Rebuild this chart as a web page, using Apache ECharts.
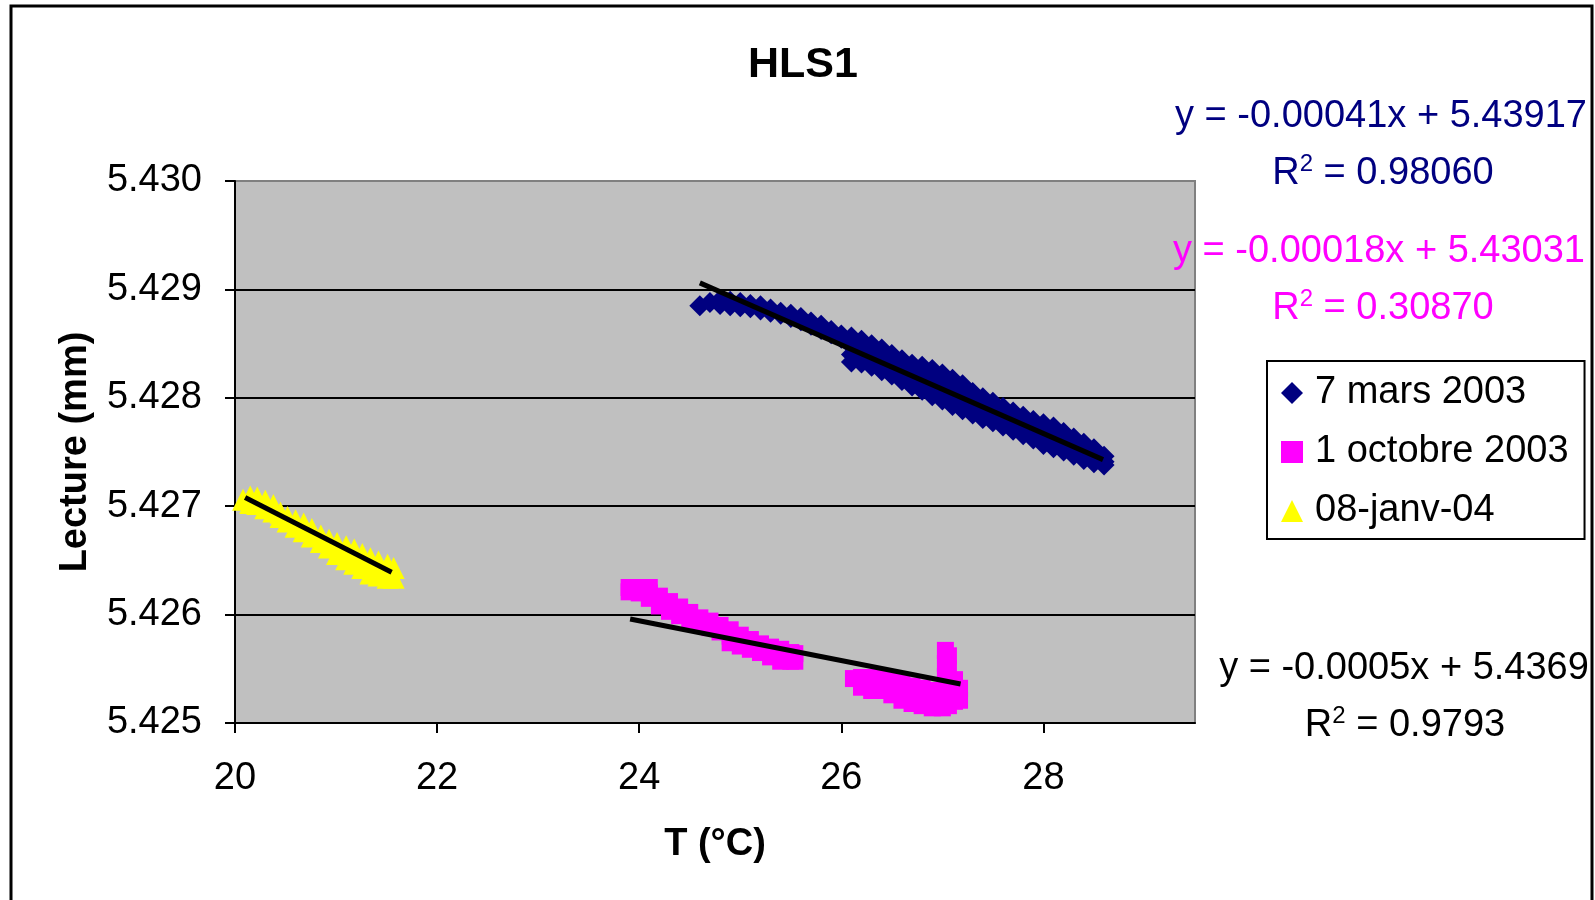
<!DOCTYPE html>
<html>
<head>
<meta charset="utf-8">
<title>HLS1</title>
<script src="https://cdn.jsdelivr.net/npm/echarts@6/dist/echarts.min.js"></script>
<style>
    html, body { margin: 0; padding: 0; background: #fff; }
    #chart { width: 1595px; height: 900px; }
</style>
</head>
<body>
<div id="chart"></div>
<script>
var FONT = "'Liberation Sans', Arial, sans-serif";

var seriesNames = ['7 mars 2003', '1 octobre 2003', '08-janv-04'];
var xTicks = [20, 22, 24, 26, 28];

// T (°C), Lecture (mm)
var mars2003 = [
    [24.6, 5.42885], [24.7, 5.42888],
    [24.8, 5.42890], [24.8, 5.42886], [24.9, 5.42889], [24.9, 5.42885],
    [25.0, 5.42888], [25.0, 5.42884], [25.1, 5.42886], [25.1, 5.42883],
    [25.2, 5.42885], [25.2, 5.42881], [25.3, 5.42882], [25.3, 5.42879],
    [25.4, 5.42879], [25.4, 5.42877], [25.5, 5.42877], [25.5, 5.42874],
    [25.6, 5.42874], [25.6, 5.42871], [25.7, 5.42870], [25.7, 5.42867],
    [25.8, 5.42867], [25.8, 5.42863], [25.9, 5.42862], [25.9, 5.42859],
    [26.0, 5.42858], [26.0, 5.42855],
    [26.1, 5.42856], [26.1, 5.42848], [26.1, 5.42840], [26.1, 5.42833],
    [26.2, 5.42853], [26.2, 5.42845], [26.2, 5.42837], [26.2, 5.42832],
    [26.3, 5.42849], [26.3, 5.42841], [26.3, 5.42833], [26.3, 5.42829],
    [26.4, 5.42845], [26.4, 5.42837], [26.4, 5.42829], [26.4, 5.42825],
    [26.5, 5.42840], [26.5, 5.42832], [26.5, 5.42824], [26.5, 5.42821],
    [26.6, 5.42835], [26.6, 5.42827], [26.6, 5.42819], [26.6, 5.42816],
    [26.7, 5.42831], [26.7, 5.42823], [26.7, 5.42815], [26.7, 5.42811],
    [26.8, 5.42829], [26.8, 5.42821], [26.8, 5.42813], [26.8, 5.42807],
    [26.9, 5.42826], [26.9, 5.42818], [26.9, 5.42810], [26.9, 5.42802],
    [27.0, 5.42822], [27.0, 5.42814], [27.0, 5.42806], [27.0, 5.42798],
    [27.1, 5.42817], [27.1, 5.42809], [27.1, 5.42801], [27.1, 5.42793],
    [27.2, 5.42812], [27.2, 5.42804], [27.2, 5.42796], [27.2, 5.42789],
    [27.3, 5.42805], [27.3, 5.42797], [27.3, 5.42790], [27.3, 5.42785],
    [27.4, 5.42800], [27.4, 5.42792], [27.4, 5.42786], [27.4, 5.42781],
    [27.5, 5.42796], [27.5, 5.42789], [27.5, 5.42782], [27.5, 5.42778],
    [27.6, 5.42791], [27.6, 5.42784], [27.6, 5.42778], [27.6, 5.42774],
    [27.7, 5.42787], [27.7, 5.42780], [27.7, 5.42774], [27.7, 5.42770],
    [27.8, 5.42783], [27.8, 5.42776], [27.8, 5.42770], [27.8, 5.42766],
    [27.9, 5.42779], [27.9, 5.42772], [27.9, 5.42766], [27.9, 5.42762],
    [28.0, 5.42776], [28.0, 5.42769], [28.0, 5.42762], [28.0, 5.42757],
    [28.1, 5.42773], [28.1, 5.42766], [28.1, 5.42759], [28.1, 5.42754],
    [28.2, 5.42768], [28.2, 5.42761], [28.2, 5.42755], [28.2, 5.42751],
    [28.3, 5.42763], [28.3, 5.42756], [28.3, 5.42751], [28.3, 5.42747],
    [28.4, 5.42758], [28.4, 5.42752], [28.4, 5.42747], [28.4, 5.42743],
    [28.5, 5.42753], [28.5, 5.42748], [28.5, 5.42744], [28.5, 5.42740],
    [28.6, 5.42746], [28.6, 5.42741], [28.6, 5.42738]
];

var octobre2003 = [
    [23.9, 5.42625], [23.9, 5.42621], [24.0, 5.42625], [24.0, 5.42620],
    [24.1, 5.42625], [24.1, 5.42620], [24.1, 5.42615],
    [24.2, 5.42617], [24.2, 5.42608], [24.3, 5.42612], [24.3, 5.42603],
    [24.4, 5.42607], [24.4, 5.42599], [24.5, 5.42602], [24.5, 5.42595],
    [24.6, 5.42597], [24.6, 5.42591], [24.7, 5.42594], [24.7, 5.42588],
    [24.8, 5.42590], [24.8, 5.42584],
    [24.9, 5.42586], [24.9, 5.42580], [24.9, 5.42574],
    [25.0, 5.42581], [25.0, 5.42575], [25.0, 5.42571],
    [25.1, 5.42577], [25.1, 5.42568], [25.2, 5.42573], [25.2, 5.42565],
    [25.3, 5.42570], [25.3, 5.42561], [25.4, 5.42568], [25.4, 5.42557],
    [25.5, 5.42565], [25.5, 5.42557], [25.54, 5.42564], [25.54, 5.42557],
    [26.12, 5.42541],
    [26.2, 5.42542], [26.2, 5.42533], [26.3, 5.42542], [26.3, 5.42530],
    [26.4, 5.42542], [26.4, 5.42530], [26.5, 5.42539], [26.5, 5.42526],
    [26.6, 5.42537], [26.6, 5.42529], [26.6, 5.42521],
    [26.7, 5.42534], [26.7, 5.42526], [26.7, 5.42518],
    [26.8, 5.42532], [26.8, 5.42524], [26.8, 5.42516],
    [26.9, 5.42530], [26.9, 5.42522], [26.9, 5.42514],
    [27.0, 5.42528], [27.0, 5.42521], [27.0, 5.42514],
    [27.03, 5.42567], [27.03, 5.42555], [27.03, 5.42543], [27.03, 5.42531], [27.03, 5.42521],
    [27.06, 5.42562], [27.06, 5.42550], [27.06, 5.42538], [27.06, 5.42526], [27.06, 5.42516],
    [27.12, 5.42540], [27.12, 5.42530], [27.12, 5.42520],
    [27.17, 5.42532], [27.17, 5.42521]
];

var janvier2004 = [
    [20.08, 5.42706],
    [20.15, 5.42709], [20.15, 5.42703], [20.22, 5.42708], [20.22, 5.42702],
    [20.30, 5.42705], [20.30, 5.42698], [20.38, 5.42701], [20.38, 5.42695],
    [20.45, 5.42694], [20.45, 5.42690], [20.52, 5.42690], [20.52, 5.42686],
    [20.60, 5.42687], [20.60, 5.42681], [20.68, 5.42684], [20.68, 5.42677],
    [20.76, 5.42679], [20.76, 5.42672], [20.85, 5.42673], [20.85, 5.42667],
    [20.93, 5.42669], [20.93, 5.42662], [21.01, 5.42666], [21.01, 5.42656],
    [21.10, 5.42663], [21.10, 5.42651], [21.18, 5.42660], [21.18, 5.42647],
    [21.26, 5.42656], [21.26, 5.42643], [21.34, 5.42652], [21.34, 5.42638],
    [21.42, 5.42649], [21.42, 5.42636], [21.51, 5.42646], [21.51, 5.42634],
    [21.57, 5.42643], [21.57, 5.42634]
];

// droites de tendance (extrémités)
var trendMars = [[24.60, 5.42906], [28.59, 5.42743]];
var trendOctobre = [[23.91, 5.42596], [27.18, 5.42536]];
var trendJanvier = [[20.10, 5.42708], [21.55, 5.42639]];

var eqMars = ['y = -0.00041x + 5.43917', '0.98060'];
var eqOctobre = ['y = -0.00018x + 5.43031', '0.30870'];
var eqJanvier = ['y = -0.0005x + 5.4369', '0.9793'];

function eqLine(text, x, y, color) {
    return {
        type: 'text', x: x, y: y, z: 100, silent: true,
        style: {
            text: text, fill: color, fontSize: 38, fontFamily: FONT,
            align: 'center', verticalAlign: 'middle'
        }
    };
}

function r2Line(value, x, y, color) {
    return {
        type: 'text', x: x, y: y, z: 100, silent: true,
        style: {
            text: '{r|R}{s|2}{r| = ' + value + '}',
            fill: color, fontSize: 38, fontFamily: FONT,
            align: 'center', verticalAlign: 'middle',
            rich: {
                r: { fontSize: 38, fontFamily: FONT, fill: color },
                s: { fontSize: 24, lineHeight: 24, fontFamily: FONT, fill: color, padding: [0, 0, 20, 0] }
            }
        }
    };
}

var chart = echarts.init(document.getElementById('chart'));

var axisLine = { color: '#000', width: 2 };

var option = {
    animation: false,
    backgroundColor: '#fff',
    textStyle: { fontFamily: FONT },
    title: {
        text: 'HLS1',
        left: 748,
        top: 44,
        padding: 0,
        textStyle: { fontSize: 43, fontWeight: 'bold', color: '#000', fontFamily: FONT }
    },
    grid: {
        left: 235,
        top: 181,
        width: 960,
        height: 542,
        show: true,
        backgroundColor: '#c0c0c0',
        borderColor: '#808080',
        borderWidth: 2
    },
    legend: {
        orient: 'vertical',
        left: 1267,
        top: 361,
        padding: [13, 16, 9, 14],
        itemGap: 21,
        itemWidth: 22,
        itemHeight: 22,
        borderColor: '#000',
        borderWidth: 2,
        backgroundColor: '#fff',
        textStyle: { fontSize: 38, color: '#000', fontFamily: FONT, padding: [0, 0, 0, 7] },
        data: seriesNames
    },
    xAxis: {
        type: 'value',
        min: 20,
        max: 29.5,
        interval: 2,
        name: 'T (°C)',
        nameLocation: 'middle',
        nameGap: 103,
        nameTextStyle: { fontSize: 38, fontWeight: 'bold', color: '#000', fontFamily: FONT },
        axisLine: { show: true, onZero: false, lineStyle: axisLine },
        axisTick: { show: true, length: 10, lineStyle: axisLine, customValues: xTicks },
        axisLabel: { fontSize: 38, color: '#000', margin: 37, fontFamily: FONT, customValues: xTicks },
        splitLine: { show: false }
    },
    yAxis: {
        type: 'value',
        min: 5.425,
        max: 5.430,
        interval: 0.001,
        name: 'Lecture (mm)',
        nameLocation: 'middle',
        nameGap: 140,
        nameRotate: 90,
        nameTextStyle: { fontSize: 38, fontWeight: 'bold', color: '#000', fontFamily: FONT },
        axisLine: { show: true, onZero: false, lineStyle: axisLine },
        axisTick: { show: true, length: 10, lineStyle: axisLine },
        axisLabel: {
            fontSize: 38, color: '#000', margin: 33, fontFamily: FONT,
            formatter: function (v) { return v.toFixed(3); }
        },
        splitLine: { show: true, showMinLine: false, showMaxLine: false, lineStyle: axisLine }
    },
    graphic: [
        {
            type: 'rect', silent: true, z: 100,
            shape: { x: 11, y: 6, width: 1581, height: 920 },
            style: { fill: 'none', stroke: '#000', lineWidth: 3 }
        },
        eqLine(eqMars[0], 1381, 117, '#000080'),
        r2Line(eqMars[1], 1383, 174, '#000080'),
        eqLine(eqOctobre[0], 1379, 252, '#ff00ff'),
        r2Line(eqOctobre[1], 1383, 309, '#ff00ff'),
        eqLine(eqJanvier[0], 1404, 669, '#000'),
        r2Line(eqJanvier[1], 1405, 726, '#000')
    ],
    series: [
        {
            name: seriesNames[0], type: 'scatter', data: mars2003,
            symbol: 'diamond', symbolSize: 21, itemStyle: { color: '#000080', opacity: 1 }
        },
        {
            name: seriesNames[1], type: 'scatter', data: octobre2003,
            symbol: 'rect', symbolSize: 17, itemStyle: { color: '#ff00ff', opacity: 1 }
        },
        {
            name: seriesNames[2], type: 'scatter', data: janvier2004,
            symbol: 'triangle', symbolSize: 22, itemStyle: { color: '#ffff00', opacity: 1 }
        },
        {
            type: 'line', data: trendMars, symbol: 'none', silent: true,
            lineStyle: { color: '#000', width: 5 }
        },
        {
            type: 'line', data: trendOctobre, symbol: 'none', silent: true,
            lineStyle: { color: '#000', width: 5 }
        },
        {
            type: 'line', data: trendJanvier, symbol: 'none', silent: true,
            lineStyle: { color: '#000', width: 5 }
        }
    ]
};

chart.setOption(option);
</script>
</body>
</html>
